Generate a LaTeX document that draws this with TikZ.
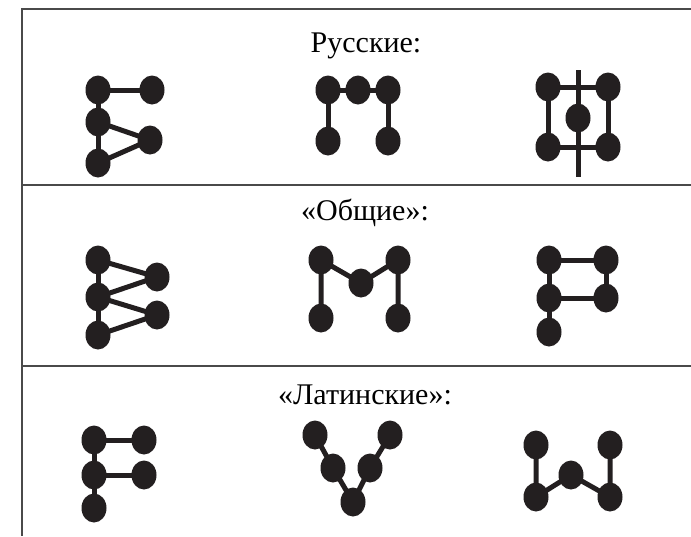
\documentclass[tikz,border=0pt]{standalone}
\usepackage{fontspec}
\setmainfont{Liberation Serif}
\usetikzlibrary{shapes.geometric,backgrounds}
\definecolor{ink}{HTML}{231F20}
\definecolor{frame}{HTML}{4A4A4A}
\begin{document}
\begin{tikzpicture}[x=1pt,y=-1pt,
  dot/.style={ellipse,fill=ink,draw=none,minimum width=25pt,minimum height=29pt,inner sep=0pt},
  link/.style={draw=ink,line width=5pt},
  rule/.style={draw=frame,line width=1.6pt},
  title/.style={anchor=base,font=\fontsize{30}{34}\selectfont,inner sep=0pt}]
\useasboundingbox (0,0) rectangle (691,536);
% frame
\coordinate (tl) at (22,9);
\coordinate (tr) at (691,9);
\coordinate (bl) at (22,536);
\coordinate (d1l) at (22,185);
\coordinate (d1r) at (691,185);
\coordinate (d2l) at (22,366);
\coordinate (d2r) at (691,366);
\draw[rule] (tr) -- (tl) -- (bl);
\draw[rule] (d1l) -- (d1r);
\draw[rule] (d2l) -- (d2r);
% titles
\node[title] (t1) at (366,52) {Русские:};
\node[title] (t2) at (365,220) {«Общие»:};
\node[title] (t3) at (365,404) {«Латинские»:};
% Row 1: Б
\node[dot] (b1) at (98,90) {};
\node[dot] (b2) at (152,90) {};
\node[dot] (b3) at (98,122) {};
\node[dot] (b4) at (150,140) {};
\node[dot] (b5) at (98,163) {};
% П
\node[dot] (p1) at (328,90) {};
\node[dot] (p2) at (358,90) {};
\node[dot] (p3) at (388,90) {};
\node[dot] (p4) at (328,141) {};
\node[dot] (p5) at (388,141) {};
% Ф
\node[dot] (f1) at (548,87) {};
\node[dot] (f2) at (608,87) {};
\node[dot] (f3) at (578,118) {};
\node[dot] (f4) at (548,147) {};
\node[dot] (f5) at (608,147) {};
\coordinate (ft) at (578,70);
\coordinate (fb) at (578,177);
% Row 2: В
\node[dot] (v1) at (98,260) {};
\node[dot] (v2) at (157,277) {};
\node[dot] (v3) at (98,297) {};
\node[dot] (v4) at (157,315) {};
\node[dot] (v5) at (98,335) {};
% М
\node[dot] (m1) at (321,260) {};
\node[dot] (m2) at (361,283) {};
\node[dot] (m3) at (398,260) {};
\node[dot] (m4) at (321,318) {};
\node[dot] (m5) at (398,318) {};
% Р
\node[dot] (r1) at (549,260) {};
\node[dot] (r2) at (606,260) {};
\node[dot] (r3) at (549,298) {};
\node[dot] (r4) at (606,298) {};
\node[dot] (r5) at (549,332) {};
% Row 3: F
\node[dot] (a1) at (94,440) {};
\node[dot] (a2) at (144,440) {};
\node[dot] (a3) at (94,475) {};
\node[dot] (a4) at (144,475) {};
\node[dot] (a5) at (94,508) {};
% V
\node[dot] (c1) at (315,435) {};
\node[dot] (c2) at (333,468) {};
\node[dot] (c3) at (353,502) {};
\node[dot] (c4) at (370,468) {};
\node[dot] (c5) at (390,435) {};
% W
\node[dot] (w1) at (536,445) {};
\node[dot] (w2) at (536,497) {};
\node[dot] (w3) at (571,475) {};
\node[dot] (w4) at (610,497) {};
\node[dot] (w5) at (610,445) {};
\begin{scope}[on background layer]
\draw[link] (b1.center) -- (b5.center);
\draw[link] (b1.center) -- (b2.center);
\draw[link] (b3.center) -- (b4.center) -- (b5.center);
\draw[link] (p1.center) -- (p3.center);
\draw[link] (p1.center) -- (p4.center);
\draw[link] (p3.center) -- (p5.center);
\draw[link] (f1.center) -- (f2.center);
\draw[link] (f4.center) -- (f5.center);
\draw[link] (f1.center) -- (f4.center);
\draw[link] (f2.center) -- (f5.center);
\draw[link] (ft) -- (fb);
\draw[link] (v1.center) -- (v5.center);
\draw[link] (v1.center) -- (v2.center) -- (v3.center) -- (v4.center) -- (v5.center);
\draw[link] (m4.center) -- (m1.center) -- (m2.center) -- (m3.center) -- (m5.center);
\draw[link] (r5.center) -- (r1.center) -- (r2.center) -- (r4.center) -- (r3.center);
\draw[link] (a1.center) -- (a5.center);
\draw[link] (a1.center) -- (a2.center);
\draw[link] (a3.center) -- (a4.center);
\draw[link] (c1.center) -- (c2.center) -- (c3.center) -- (c4.center) -- (c5.center);
\draw[link] (w1.center) -- (w2.center) -- (w3.center) -- (w4.center) -- (w5.center);
\end{scope}
\end{tikzpicture}
\end{document}
